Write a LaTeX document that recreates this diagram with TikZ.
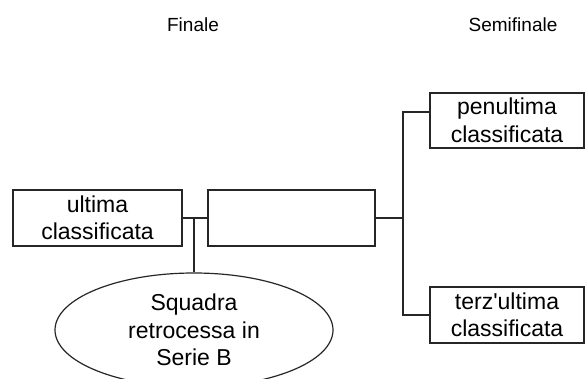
\documentclass[tikz,border=0pt]{standalone}
\usepackage{fontspec}
\setmainfont{Liberation Sans}
\usetikzlibrary{shapes.geometric}

\tikzset{
  team/.style={draw=black!85, line width=1.2pt, inner sep=0pt, align=center,
    font=\fontsize{23}{27.5}\selectfont, text=black},
  title/.style={font=\fontsize{19}{23}\selectfont, text=black},
  link/.style={draw=black!85, line width=1.2pt}
}

\begin{document}
\begin{tikzpicture}[x=1pt,y=-1pt]
        \useasboundingbox (0,0) rectangle (585,378) ;
        \clip (0,0) rectangle (585,378) ;
        % titles
        \node[title] (finale) at (193,25) {Finale} ;
        \node[title] (semi) at (513,25) {Semifinale} ;
        % finale
        \node[team,minimum width=169pt,minimum height=56pt] (ultima) at (97.5,218) {ultima\\classificata} ;
        \node[team,minimum width=167pt,minimum height=56pt] (mid) at (291.5,218) {} ;
        \node[team,ellipse,minimum width=278pt,minimum height=114pt] (retro) at (194,330) {Squadra\\retrocessa in\\Serie B} ;
        % semifinale
        \node[team,minimum width=154pt,minimum height=55pt] (penult) at (507,120.5) {penultima\\classificata} ;
        \node[team,minimum width=154pt,minimum height=56pt] (terz) at (507,315) {terz\textquotesingle ultima\\classificata} ;
        % connectors
        \coordinate (jl) at (ultima.east -| retro.north) ;
        \coordinate (jr) at (403,218) ;
        \draw[link] (ultima.east) -- (mid.west) ;
        \draw[link] (jl) -- (retro.north) ;
        \draw[link] (mid.east) -- (jr) ;
        \draw[link] (jr) |- ([yshift=8.5pt]penult.west) ;
        \draw[link] (jr) |- (terz.west) ;
      \end{tikzpicture}
\end{document}
